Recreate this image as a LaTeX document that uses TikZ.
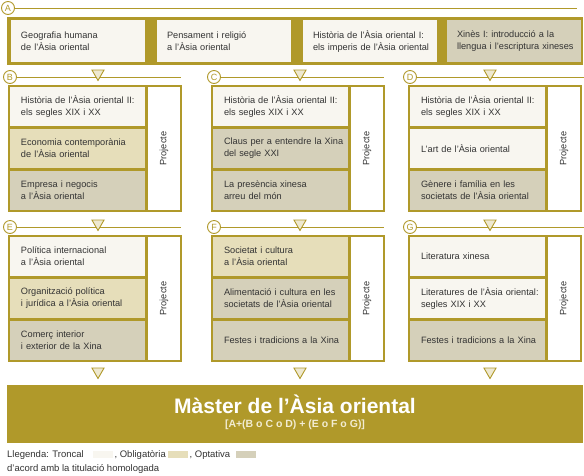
\documentclass[tikz,border=0pt]{standalone}
\usepackage{fontspec}
\setmainfont{Liberation Sans}
\usetikzlibrary{positioning,shapes.geometric}
\definecolor{gold}{RGB}{176,153,42}
\definecolor{tronc}{RGB}{248,246,240}
\definecolor{oblig}{RGB}{230,222,186}
\definecolor{optat}{RGB}{213,208,186}
\definecolor{trifill}{RGB}{238,232,208}
\definecolor{txt}{RGB}{51,51,51}
\definecolor{pale}{RGB}{242,236,210}

\begin{document}
\begin{tikzpicture}[x=1pt,y=-1pt,
  every node/.style={inner sep=0pt,text=txt},
  band/.style={rectangle,fill=gold},
  cell/.style={rectangle,minimum width=135pt,minimum height=39pt,text width=130pt,align=left,
    execute at begin node={\leftskip=8.5pt\hyphenpenalty=10000},font=\fontsize{9.2}{12}\selectfont},
  topcell/.style={cell,minimum width=134pt,minimum height=42pt},
  proj/.style={rectangle,fill=white,rotate=90,minimum width=123pt,minimum height=32pt,font=\fontsize{9.2}{12}\selectfont},
  tag/.style={circle,draw=gold,fill=white,line width=0.9pt,minimum size=13pt,text=gold,font=\fontsize{9}{9}\selectfont},
  tri/.style={regular polygon,regular polygon sides=3,shape border rotate=180,draw=gold,fill=trifill,line width=0.9pt,minimum size=14pt},
  rule/.style={draw=gold,line width=0.9pt},
  legend/.style={text height=7pt,text depth=2pt,font=\fontsize{9.5}{12}\selectfont},
  key/.style={rectangle,minimum width=20pt,minimum height=7pt}]
\useasboundingbox (0,0) rectangle (584,475);

% A
\node[tag] (cA) at (8,8) {A};
\coordinate (eA) at (577,8);
\draw[rule] (cA) -- (eA);
\node[band,minimum width=576pt,minimum height=48pt] (bA) at (295,41) {};
\node[topcell,fill=tronc] (a1) at (77.5,41) {Geografia humana\\de l’Àsia oriental};
\node[topcell,fill=tronc] (a2) at (223.5,41) {Pensament i religió\\a l’Àsia oriental};
\node[topcell,fill=tronc] (a3) at (369.5,41) {Història de l’Àsia oriental I:\\els imperis de l’Àsia oriental};
\node[topcell,fill=optat] (a4) at (513.5,41) {Xinès I: introducció a la\\llengua i l’escriptura xineses};

% B
\node[tag] (cB) at (10,77) {B};
\coordinate (eB) at (181,77);
\draw[rule] (cB) -- (eB);
\node[tri] (tB) at (98,73.5) {};
\node[band,minimum width=174pt,minimum height=127pt] (fB) at (95,148.5) {};
\node[cell,fill=tronc] (b1) at (77.5,106.5) {Història de l’Àsia oriental II:\\els segles XIX i XX};
\node[cell,fill=oblig] (b2) at (77.5,148.5) {Economia contemporània\\de l’Àsia oriental};
\node[cell,fill=optat] (b3) at (77.5,190.5) {Empresa i negocis\\a l’Àsia oriental};
\node[proj] (pB) at (164,148.5) {Projecte};

% C
\node[tag] (cC) at (214,77) {C};
\coordinate (eC) at (384,77);
\draw[rule] (cC) -- (eC);
\node[tri] (tC) at (300,73.5) {};
\node[band,minimum width=174pt,minimum height=127pt] (fC) at (298,148.5) {};
\node[cell,fill=tronc] (c1) at (280.5,106.5) {Història de l’Àsia oriental II:\\els segles XIX i XX};
\node[cell,fill=optat] (c2) at (280.5,148.5) {Claus per a entendre la Xina\\del segle XXI};
\node[cell,fill=optat] (c3) at (280.5,190.5) {La presència xinesa\\arreu del món};
\node[proj] (pC) at (367,148.5) {Projecte};

% D
\node[tag] (cD) at (410,77) {D};
\coordinate (eD) at (584,77);
\draw[rule] (cD) -- (eD);
\node[tri] (tD) at (490,73.5) {};
\node[band,minimum width=174pt,minimum height=127pt] (fD) at (495,148.5) {};
\node[cell,fill=tronc] (d1) at (477.5,106.5) {Història de l’Àsia oriental II:\\els segles XIX i XX};
\node[cell,fill=tronc] (d2) at (477.5,148.5) {L’art de l’Àsia oriental};
\node[cell,fill=optat] (d3) at (477.5,190.5) {Gènere i família en les\\societats de l’Àsia oriental};
\node[proj] (pD) at (564,148.5) {Projecte};

% E
\node[tag] (cE) at (10,227) {E};
\coordinate (eE) at (181,227);
\draw[rule] (cE) -- (eE);
\node[tri] (tE) at (98,223.5) {};
\node[band,minimum width=174pt,minimum height=127pt] (fE) at (95,298.5) {};
\node[cell,fill=tronc] (e1) at (77.5,256.5) {Política internacional\\a l’Àsia oriental};
\node[cell,fill=oblig] (e2) at (77.5,298.5) {Organització política\\i jurídica a l’Àsia oriental};
\node[cell,fill=optat] (e3) at (77.5,340.5) {Comerç interior\\i exterior de la Xina};
\node[proj] (pE) at (164,298.5) {Projecte};
\node[tri] (sE) at (98,371.5) {};

% F
\node[tag] (cF) at (214,227) {F};
\coordinate (eF) at (384,227);
\draw[rule] (cF) -- (eF);
\node[tri] (tF) at (300,223.5) {};
\node[band,minimum width=174pt,minimum height=127pt] (fF) at (298,298.5) {};
\node[cell,fill=oblig] (f1) at (280.5,256.5) {Societat i cultura\\a l’Àsia oriental};
\node[cell,fill=optat] (f2) at (280.5,298.5) {Alimentació i cultura en les\\societats de l’Àsia oriental};
\node[cell,fill=optat] (f3) at (280.5,340.5) {Festes i tradicions a la Xina};
\node[proj] (pF) at (367,298.5) {Projecte};
\node[tri] (sF) at (300,371.5) {};

% G
\node[tag] (cG) at (410,227) {G};
\coordinate (eG) at (584,227);
\draw[rule] (cG) -- (eG);
\node[tri] (tG) at (490,223.5) {};
\node[band,minimum width=174pt,minimum height=127pt] (fG) at (495,298.5) {};
\node[cell,fill=tronc] (g1) at (477.5,256.5) {Literatura xinesa};
\node[cell,fill=tronc] (g2) at (477.5,298.5) {Literatures de l’Àsia oriental:\\segles XIX i XX};
\node[cell,fill=optat] (g3) at (477.5,340.5) {Festes i tradicions a la Xina};
\node[proj] (pG) at (564,298.5) {Projecte};
\node[tri] (sG) at (490,371.5) {};

% master
\node[band,minimum width=576pt,minimum height=58pt] (m) at (295,414) {};
\node[anchor=base,text=white,font=\fontsize{21}{21}\selectfont\bfseries] (mt) at (295,413) {Màster de l’Àsia oriental};
\node[anchor=base,text=pale,font=\fontsize{10.5}{11}\selectfont\bfseries] (ms) at (295,427) {[A+(B o C o D) + (E o F o G)]};

% legend
\node[legend,anchor=base west] (lg1) at (7,457) {Llegenda: Troncal};
\node[key,fill=tronc,right=9pt of lg1] (k1) {};
\node[legend,right=1pt of k1] (lg2) {, Obligatòria};
\node[key,fill=oblig,right=2pt of lg2] (k2) {};
\node[legend,right=1pt of k2] (lg3) {, Optativa};
\node[key,fill=optat,right=5pt of lg3] (k3) {};
\node[legend,anchor=base west] (lg4) at (7,471) {d’acord amb la titulació homologada};
\end{tikzpicture}
\end{document}
